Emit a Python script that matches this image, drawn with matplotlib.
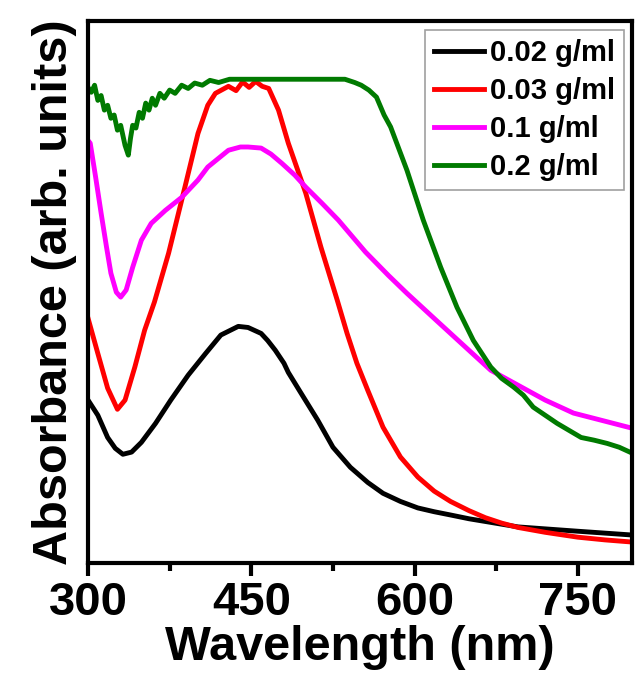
import numpy as np
import matplotlib.pyplot as plt
from matplotlib.ticker import MultipleLocator

plt.rcParams['font.family'] = ['Liberation Sans', 'DejaVu Sans']
plt.rcParams['font.weight'] = 'bold'

# Curvas (longitud de onda en nm, absorbancia en u.a.)
wl_002 = [300, 309, 318, 325, 332, 340, 349, 362, 376, 392, 408, 422, 438, 447,
          459, 465, 472, 480, 484, 495, 511, 525, 541, 557, 571, 587, 603, 618,
          633, 650, 665, 695, 750, 800]
abs_002 = [0.301, 0.273, 0.232, 0.212, 0.201, 0.205, 0.223, 0.258, 0.301, 0.347,
           0.387, 0.421, 0.437, 0.435, 0.424, 0.411, 0.393, 0.369, 0.352, 0.316,
           0.264, 0.214, 0.177, 0.149, 0.129, 0.114, 0.102, 0.095, 0.089, 0.082,
           0.077, 0.067, 0.059, 0.052]

wl_003 = [300, 309, 318, 327, 334, 343, 352, 361, 374, 389, 401, 410, 417, 429,
          436, 442, 448, 454, 460, 466, 475, 484, 500, 514, 529, 538, 547, 557,
          571, 587, 603, 618, 633, 650, 665, 680, 695, 720, 750, 775, 800]
abs_003 = [0.452, 0.387, 0.323, 0.284, 0.301, 0.362, 0.430, 0.482, 0.572, 0.694,
           0.793, 0.845, 0.867, 0.880, 0.872, 0.888, 0.878, 0.889, 0.880, 0.876,
           0.836, 0.775, 0.683, 0.583, 0.485, 0.424, 0.369, 0.319, 0.251, 0.196,
           0.159, 0.133, 0.114, 0.097, 0.084, 0.074, 0.066, 0.057, 0.048, 0.043,
           0.039]

wl_01 = [300, 302, 307, 312, 317, 321, 326, 330, 335, 341, 349, 358, 371, 386,
         401, 410, 429, 440, 447, 459, 468, 478, 490, 500, 515, 530, 555, 576,
         593, 620, 645, 670, 700, 720, 746, 775, 800]
abs_01 = [0.780, 0.775, 0.712, 0.646, 0.583, 0.535, 0.500, 0.491, 0.504, 0.546,
          0.596, 0.627, 0.651, 0.675, 0.707, 0.731, 0.762, 0.768, 0.768, 0.766,
          0.755, 0.738, 0.716, 0.694, 0.664, 0.633, 0.574, 0.531, 0.498, 0.448,
          0.402, 0.356, 0.323, 0.301, 0.277, 0.262, 0.249]

wl_02 = [300, 303, 306, 309, 312, 315, 318, 321, 324, 327, 330, 334, 337, 339,
         341, 344, 347, 350, 353, 356, 359, 362, 366, 370, 375, 380, 386, 392,
         398, 405, 412, 420, 430, 536, 545, 551, 558, 565, 572, 578, 593, 608,
         624, 639, 654, 670, 680, 691, 700, 709, 720, 731, 742, 753, 765, 777,
         788, 800]
abs_02 = [0.878, 0.869, 0.882, 0.854, 0.863, 0.836, 0.845, 0.821, 0.827, 0.799,
          0.808, 0.771, 0.753, 0.784, 0.808, 0.803, 0.832, 0.821, 0.849, 0.836,
          0.858, 0.845, 0.867, 0.858, 0.873, 0.867, 0.882, 0.876, 0.886, 0.882,
          0.891, 0.887, 0.893, 0.893, 0.887, 0.882, 0.873, 0.860, 0.827, 0.805,
          0.725, 0.633, 0.546, 0.472, 0.411, 0.362, 0.341, 0.325, 0.310, 0.288,
          0.273, 0.258, 0.245, 0.232, 0.227, 0.221, 0.214, 0.203]

labels = ['0.02 g/ml', '0.03 g/ml', '0.1 g/ml', '0.2 g/ml']
colores = ['black', '#ff0000', '#ff00ff', '#007a00']

fig = plt.figure(figsize=(6.38, 6.86), dpi=100)
ax = fig.add_axes([0.138, 0.179, 0.853, 0.790])

series = [(wl_002, abs_002), (wl_003, abs_003), (wl_01, abs_01), (wl_02, abs_02)]
for (x, y), lab, c in zip(series, labels, colores):
    ax.plot(x, y, color=c, lw=3.5, label=lab, solid_joinstyle='round')

ax.set_xlim(300, 800)
ax.set_ylim(0, 1)
ax.xaxis.set_major_locator(MultipleLocator(150))
ax.xaxis.set_minor_locator(MultipleLocator(75))
ax.set_yticks([])
for s in ax.spines.values():
    s.set_linewidth(3)
ax.tick_params(axis='x', which='major', direction='out', length=9, width=3,
               labelsize=34, pad=4)
ax.tick_params(axis='x', which='minor', direction='out', length=6, width=3)

ax.set_xlabel('Wavelength (nm)', fontsize=35, fontweight='bold', labelpad=0)
ax.set_ylabel('Absorbance (arb. units)', fontsize=35, fontweight='bold', labelpad=8)

leg = ax.legend(loc='upper right', fontsize=21, frameon=True, fancybox=False,
                handlelength=1.7, handletextpad=0.2, labelspacing=0.35,
                borderpad=0.3, borderaxespad=0.3)
leg.get_frame().set_edgecolor('#888888')
leg.get_frame().set_linewidth(1.2)

plt.savefig('out.png', dpi=100)
